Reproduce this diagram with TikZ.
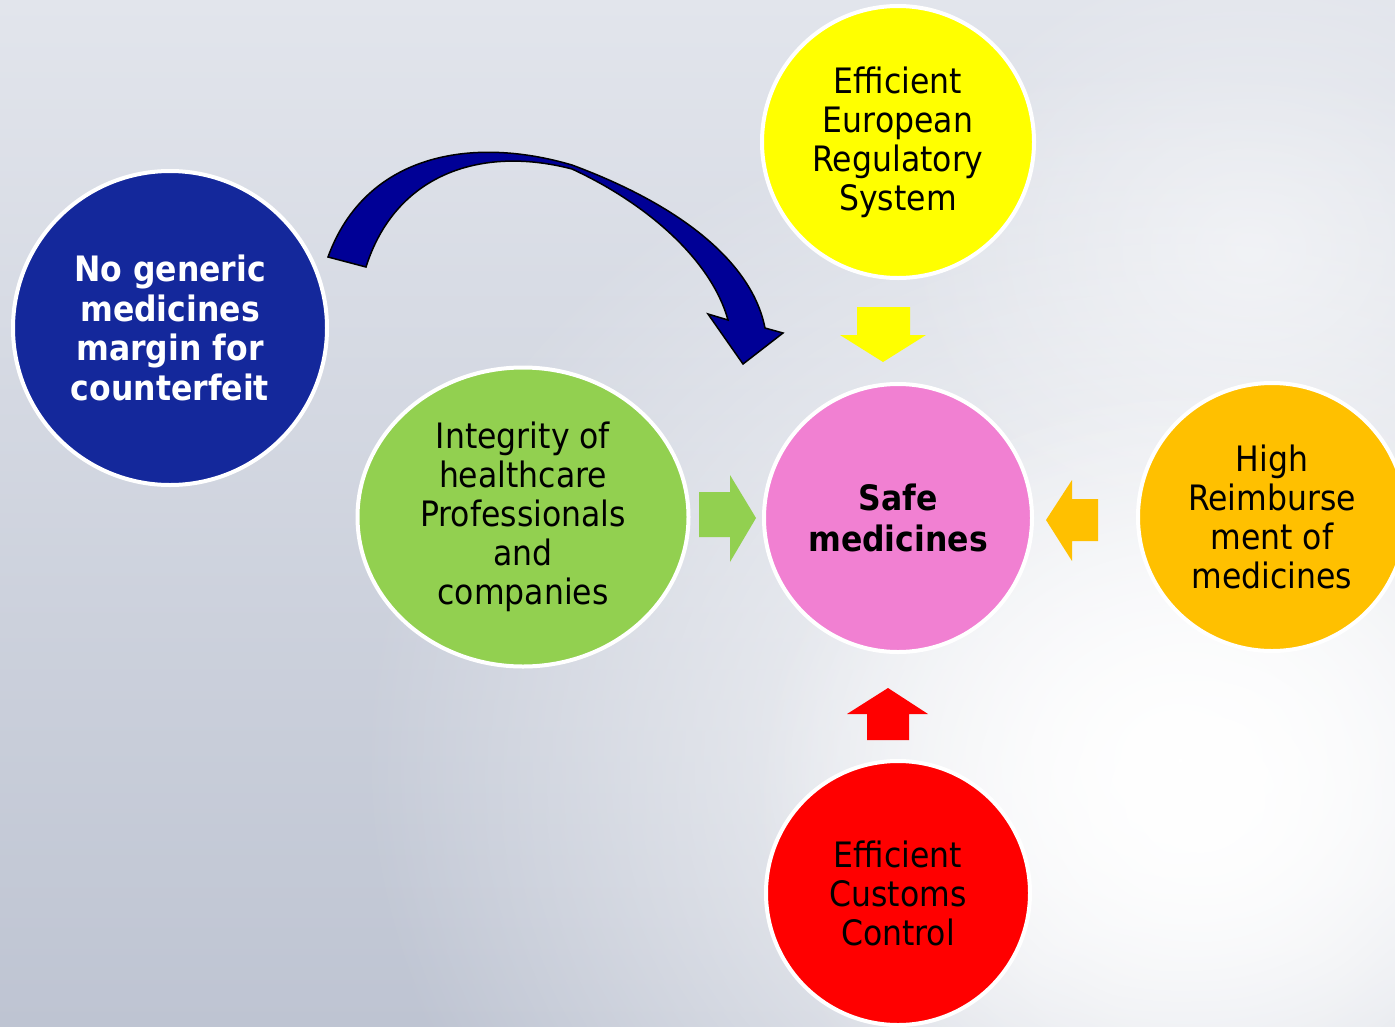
\documentclass[tikz,border=0pt]{standalone}
\usepackage{fontspec}
\setmainfont{DejaVu Sans}[FakeStretch=0.9]
\usetikzlibrary{shapes.geometric,fadings}
\tikzfading[name=glowfade, inner color=transparent!0, outer color=transparent!100]
\definecolor{bgdark}{RGB}{190,196,210}
\definecolor{bglight}{RGB}{226,229,236}
\definecolor{cblue}{RGB}{20,40,155}
\definecolor{cyellow}{RGB}{255,255,0}
\definecolor{cgreen}{RGB}{146,208,80}
\definecolor{cpink}{RGB}{241,128,210}
\definecolor{corange}{RGB}{255,192,0}
\definecolor{cred}{RGB}{255,0,0}
\definecolor{carrow}{RGB}{0,0,150}
\begin{document}
\begin{tikzpicture}[x=1pt,y=-1pt,
  bubble/.style={circle,draw=white,line width=4pt,inner sep=0pt,align=center,
    font=\fontsize{35}{39}\selectfont}]
\useasboundingbox (0,0) rectangle (1395,1026);
% background
\shade[top color=bglight,bottom color=bgdark] (0,0) rectangle (1395,1026);
\fill[white,path fading=glowfade] (1180,760) ellipse (820 and 700);
\fill[white,path fading=glowfade] (1200,800) ellipse (450 and 420);
\fill[white,opacity=0.5,path fading=glowfade] (1250,250) ellipse (350 and 300);
% circles
\node[bubble,fill=cblue,text=white,minimum size=314pt,font=\fontsize{35}{39.5}\selectfont\bfseries] (neg) at (170,328)
  {No generic\\medicines\\margin for\\counterfeit};
\node[bubble,fill=cyellow,minimum size=272pt] (eur) at (898,142)
  {Efficient\\European\\Regulatory\\System};
\node[bubble,ellipse,fill=cgreen,minimum width=331pt,minimum height=299pt] (int) at (523,517)
  {Integrity of\\healthcare\\Professionals\\and\\companies};
\node[bubble,fill=cpink,minimum size=268pt,font=\fontsize{35}{41}\selectfont\bfseries] (safe) at (898,518)
  {Safe\\medicines};
\node[bubble,fill=corange,minimum size=268pt] (reim) at (1272,517)
  {High\\Reimburse\\ment of\\medicines};
\node[bubble,fill=cred,minimum size=264pt] (cust) at (898,893)
  {Efficient\\Customs\\Control};
% block arrows
\fill[cyellow] (857,307) -- (910,307) -- (910,335) -- (926,335) -- (883,362) -- (840,335) -- (857,335) -- cycle;
\fill[cgreen] (699,492) -- (730,492) -- (730,475) -- (756,518) -- (730,562) -- (730,537) -- (699,537) -- cycle;
\fill[corange] (1098,499) -- (1072,499) -- (1072,480) -- (1046,520) -- (1072,561) -- (1072,541) -- (1098,541) -- cycle;
\fill[cred] (867,740) -- (867,714) -- (847,714) -- (888,688) -- (928,714) -- (909,714) -- (909,740) -- cycle;
% curved arrow
\filldraw[fill=carrow,draw=black,line width=1.5pt,line join=miter]
  (328,257) .. controls (365,155) and (470,135) .. (572,165)
  .. controls (680,205) and (752,262) .. (765,328)
  -- (783,333) -- (743,364) -- (708,314) -- (728,320)
  .. controls (712,262) and (650,205) .. (572,169)
  .. controls (480,145) and (395,175) .. (366,267) -- cycle;
\end{tikzpicture}
\end{document}
